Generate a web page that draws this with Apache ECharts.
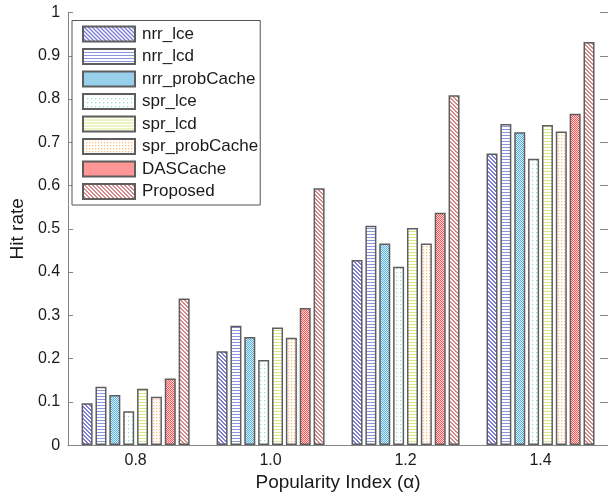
<!DOCTYPE html>
<html>
<head>
<meta charset="utf-8">
<script src="https://cdn.jsdelivr.net/npm/echarts@6/dist/echarts.min.js"></script>
<style>
  html, body { margin: 0; padding: 0; background: #fff; }
  #chart { width: 608px; height: 497px; }
</style>
</head>
<body>
<div id="chart"></div>
<script>
// Popularity index values (x categories)
const categories = ['0.8', '1.0', '1.2', '1.4'];
const yTicks = { min: 0, max: 1, interval: 0.1 };

// Hit rate of each caching scheme per popularity index
const nrrLce       = [0.097, 0.217, 0.428, 0.674];
const nrrLcd       = [0.135, 0.276, 0.507, 0.742];
const nrrProbCache = [0.116, 0.250, 0.466, 0.723];
const sprLce       = [0.078, 0.197, 0.412, 0.662];
const sprLcd       = [0.130, 0.272, 0.502, 0.740];
const sprProbCache = [0.112, 0.248, 0.466, 0.725];
const dasCache     = [0.154, 0.317, 0.537, 0.766];
const proposed     = [0.339, 0.594, 0.809, 0.932];

const seriesNames = ['nrr_lce', 'nrr_lcd', 'nrr_probCache', 'spr_lce', 'spr_lcd', 'spr_probCache', 'DASCache', 'Proposed'];
const seriesValues = [nrrLce, nrrLcd, nrrProbCache, sprLce, sprLcd, sprProbCache, dasCache, proposed];

// --- hatch / dot fill patterns drawn on small tiles ---
function tile(w, h, bg, draw) {
  const c = document.createElement('canvas');
  c.width = w; c.height = h;
  const ctx = c.getContext('2d');
  ctx.fillStyle = bg;
  ctx.fillRect(0, 0, w, h);
  draw(ctx);
  return { image: c, repeat: 'repeat' };
}
function px(ctx, color, x, y) { ctx.fillStyle = color; ctx.fillRect(x, y, 1, 1); }

function diagonal(color) {
  return tile(4, 4, '#ffffff', ctx => {
    for (let i = 0; i < 4; i++) { px(ctx, color, i, i); px(ctx, color, (i + 1) % 4, i); }
  });
}
function hlines(color) {
  return tile(1, 3, '#ffffff', ctx => { px(ctx, color, 0, 0); });
}
function checker(a, b) {
  return tile(2, 2, b, ctx => { px(ctx, a, 0, 0); px(ctx, a, 1, 1); });
}
function dots(color, soft, size) {
  return tile(size, size, '#ffffff', ctx => {
    px(ctx, soft, 1, 0); px(ctx, soft, 0, 1);
    px(ctx, color, 0, 0);
  });
}

const fills = [
  diagonal('#7f7fd9'),
  hlines('#8a96e4'),
  checker('#58b2e0', '#d8eef8'),
  dots('#8fe0cf', '#e3f7f2', 4),
  hlines('#d6ea86'),
  dots('#ffbf85', '#ffe9d4', 3),
  checker('#ff5252', '#ffdcdc'),
  diagonal('#d48a8a')
];

const FONT = "'Liberation Sans', Arial, Helvetica, sans-serif";
const AXIS_GRAY = '#858585';

const chart = echarts.init(document.getElementById('chart'), null, { renderer: 'canvas' });

const series = seriesNames.map((name, i) => ({
  name: name,
  type: 'bar',
  data: seriesValues[i],
  barWidth: 11,
  barGap: '26%',
  itemStyle: {
    color: fills[i],
    borderColor: '#5e5e5e',
    borderWidth: 1.5
  },
  emphasis: { disabled: true }
}));

const option = {
  animation: false,
  textStyle: { fontFamily: FONT },
  // plot box runs slightly past the right edge of the page
  grid: { left: 63.5, width: 550, top: 12.5, height: 433.5, containLabel: false },
  legend: {
    orient: 'vertical',
    left: 72,
    top: 20.5,
    padding: [5, 2, 5, 10],
    itemWidth: 52,
    itemHeight: 15,
    itemGap: 5.5,
    icon: 'rect',
    backgroundColor: '#ffffff',
    borderColor: '#555555',
    borderWidth: 1,
    z: 10,
    textStyle: { fontFamily: FONT, fontSize: 17, color: '#1a1a1a', lineHeight: 15, padding: [0, 0, 0, 2] },
    data: seriesNames
  },
  xAxis: [
    {
      type: 'category',
      data: categories,
      position: 'bottom',
      name: 'Popularity Index (\u03b1)',
      nameLocation: 'middle',
      nameGap: 27,
      nameTextStyle: { fontFamily: FONT, fontSize: 19, color: '#1a1a1a' },
      axisLine: { lineStyle: { color: AXIS_GRAY, width: 1 } },
      axisTick: { inside: true, alignWithLabel: true, length: 5, lineStyle: { color: '#444' } },
      axisLabel: { fontFamily: FONT, fontSize: 16, color: '#1a1a1a', margin: 7 },
      splitLine: { show: false }
    },
    {
      type: 'category',
      data: categories,
      position: 'top',
      axisLine: { lineStyle: { color: AXIS_GRAY, width: 1 } },
      axisTick: { inside: true, alignWithLabel: true, length: 5, lineStyle: { color: AXIS_GRAY } },
      axisLabel: { show: false },
      splitLine: { show: false }
    }
  ],
  yAxis: [
    {
      type: 'value',
      min: yTicks.min,
      max: yTicks.max,
      interval: yTicks.interval,
      position: 'left',
      name: 'Hit rate',
      nameLocation: 'middle',
      nameGap: 33,
      nameTextStyle: { fontFamily: FONT, fontSize: 19, color: '#1a1a1a' },
      axisLine: { show: true, lineStyle: { color: AXIS_GRAY, width: 1 } },
      axisTick: { show: true, inside: true, length: 5, lineStyle: { color: AXIS_GRAY } },
      axisLabel: { fontFamily: FONT, fontSize: 16, color: '#1a1a1a', margin: 8 },
      splitLine: { show: false }
    },
    {
      type: 'value',
      min: yTicks.min,
      max: yTicks.max,
      interval: yTicks.interval,
      position: 'right',
      axisLine: { show: true, lineStyle: { color: AXIS_GRAY, width: 1 } },
      axisTick: { show: true, inside: true, length: 8, lineStyle: { color: AXIS_GRAY } },
      axisLabel: { show: false },
      splitLine: { show: false }
    }
  ],
  series: series
};

chart.setOption(option);
</script>
</body>
</html>
